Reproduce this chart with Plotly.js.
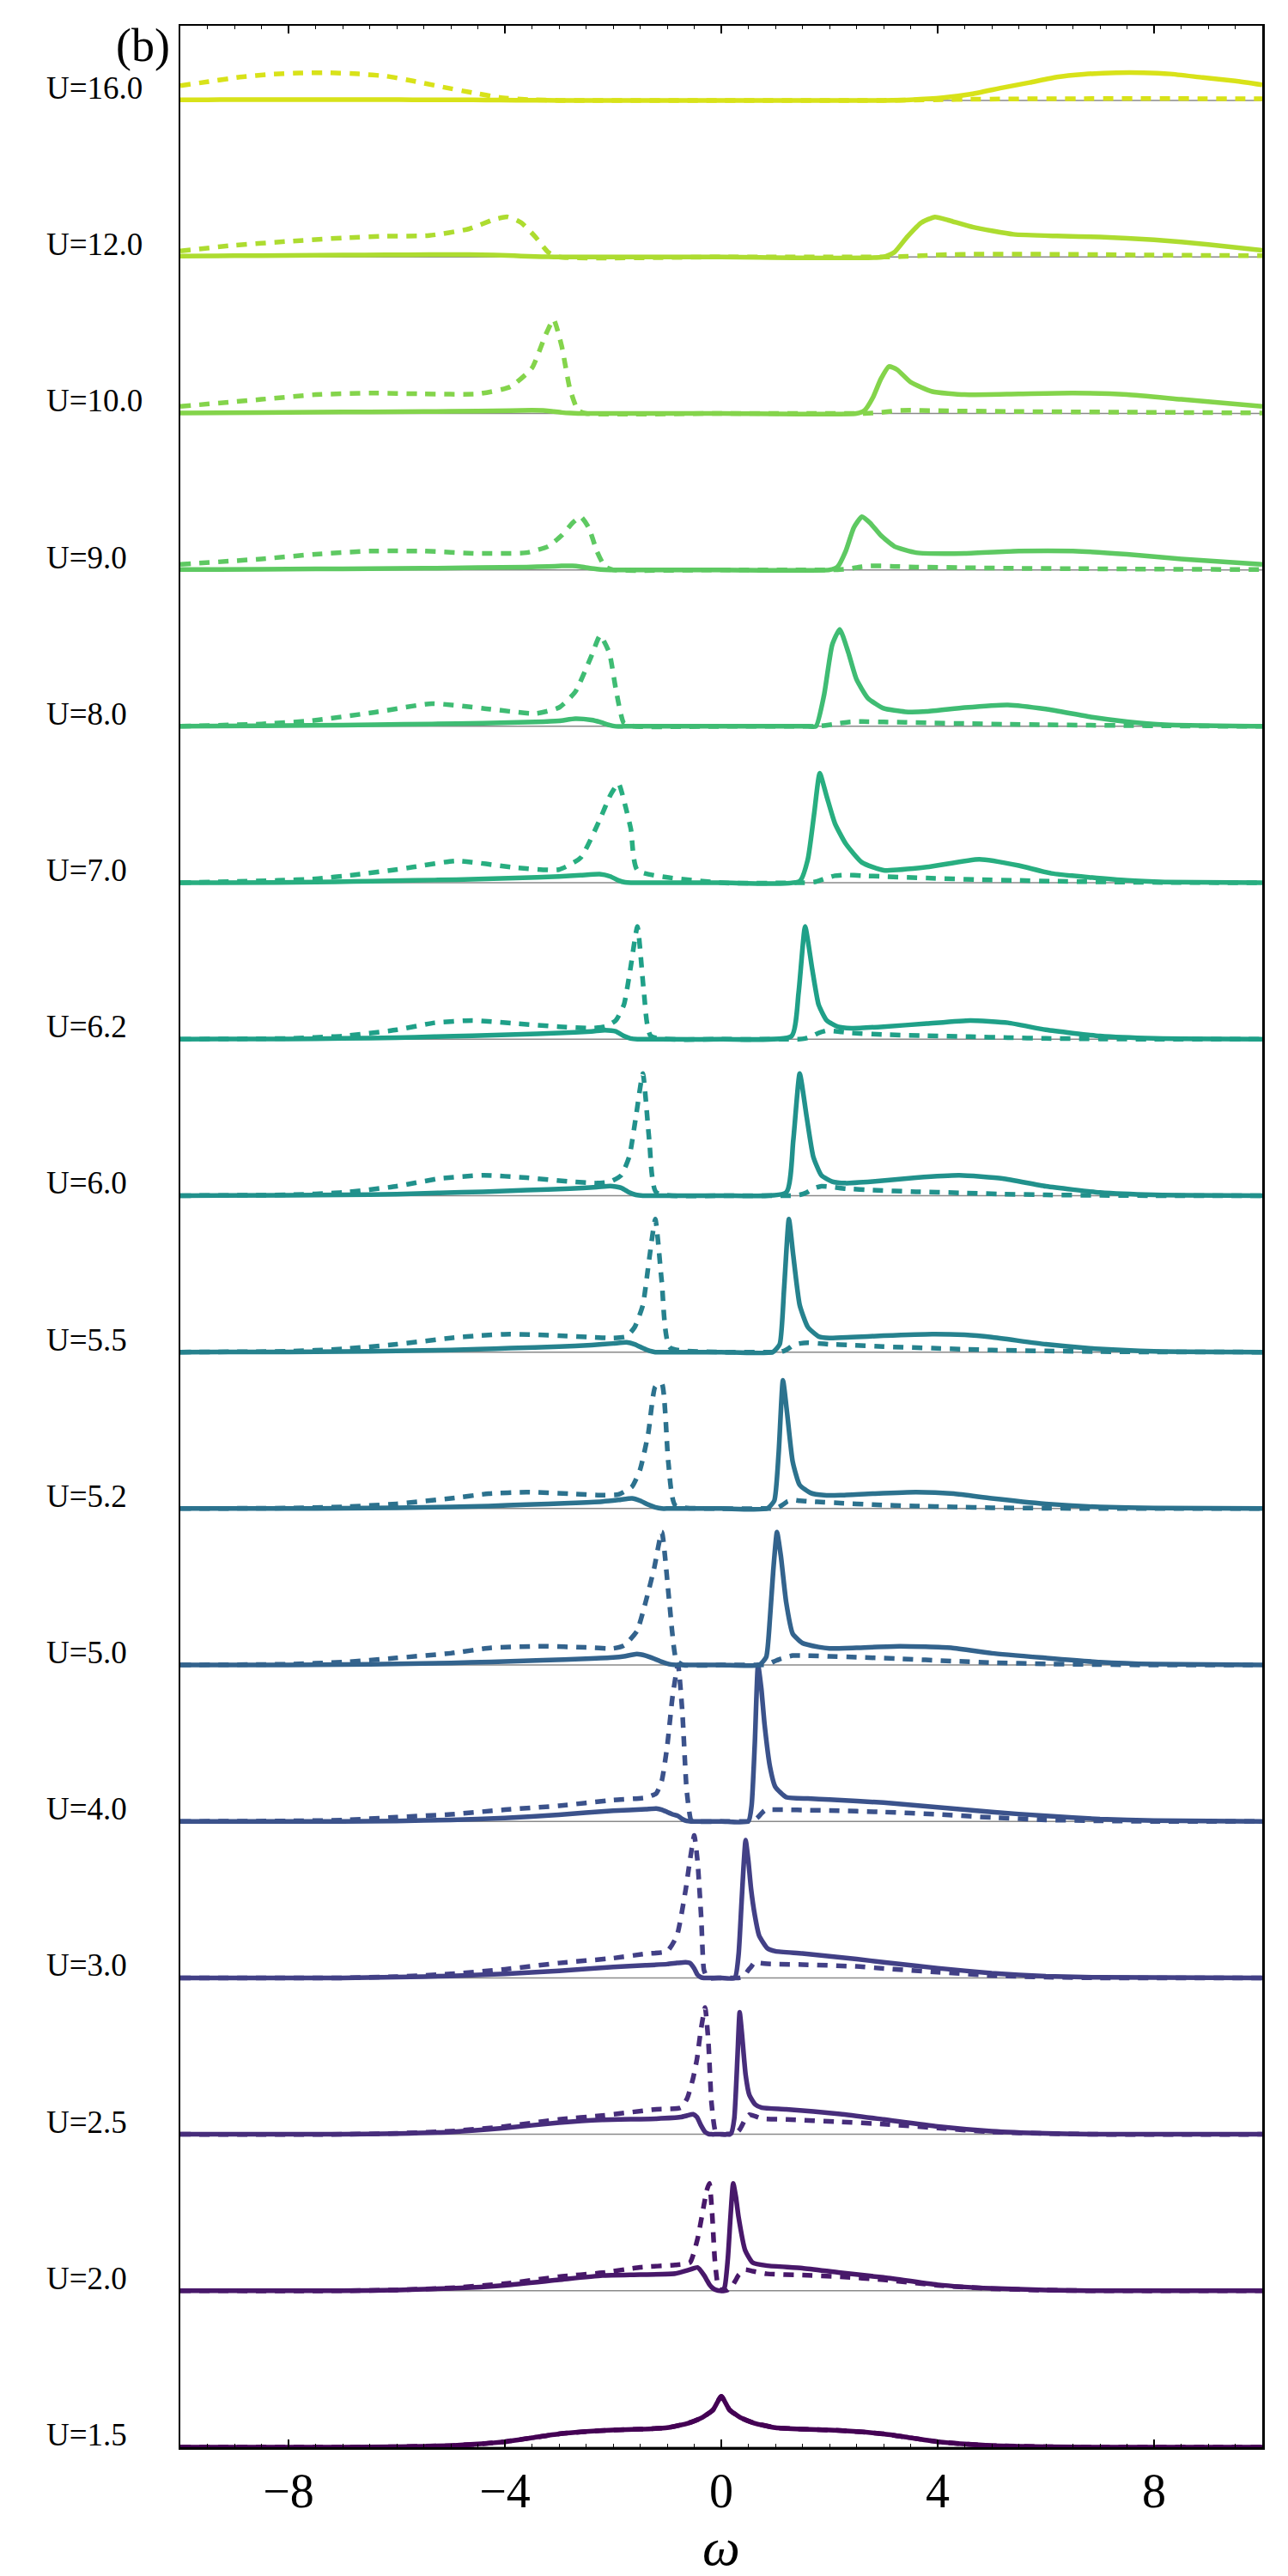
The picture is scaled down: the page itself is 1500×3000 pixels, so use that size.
<!DOCTYPE html>
<html><head><meta charset="utf-8">
<script src="https://cdn.plot.ly/plotly-3.0.1.min.js"></script>
<style>html,body{margin:0;padding:0;background:#fff}</style>
</head><body>
<div id="chart" style="width:1500px;height:3000px"></div>
<script>
// ---- labels & colours (bottom to top) ----
const uLabels = ["U=1.5","U=2.0","U=2.5","U=3.0","U=4.0","U=5.0","U=5.2","U=5.5","U=6.0","U=6.2","U=7.0","U=8.0","U=9.0","U=10.0","U=12.0","U=16.0"];
const colors = ["#440154","#48186a","#472d7b","#424086","#3b528b","#33638d","#2c728e","#26828e","#21918c","#1fa088","#28ae80","#3fbc73","#5ec962","#84d44b","#addc30","#d8e219"];
const xTicks = [-8,-4,0,4,8];
const xRange = [-10,10];

// ---- spectra: omega grid, solid curve, dashed curve ----
const U15_w = [-10,-7,-6,-5,-4.5,-4,-3.5,-3,-2.5,-2,-1.5,-1,-0.6,-0.35,-0.15,0,0.15,0.35,0.6,1,1.5,2,2.5,3,3.5,4,4.5,5,6,7,10];
const U15_s = [0,0,0.003,0.01,0.02,0.035,0.06,0.085,0.1,0.11,0.115,0.125,0.155,0.19,0.24,0.325,0.24,0.19,0.155,0.125,0.115,0.11,0.1,0.085,0.06,0.035,0.02,0.01,0.003,0,0];
const U15_d = [0,0,0.003,0.01,0.02,0.035,0.06,0.085,0.1,0.11,0.115,0.125,0.155,0.19,0.24,0.325,0.24,0.19,0.155,0.125,0.115,0.11,0.1,0.085,0.06,0.035,0.02,0.01,0.003,0,0];

const U20_w = [-10,-7,-6,-5,-4,-3,-2.2,-1.5,-0.85,-0.58,-0.44,-0.32,-0.27,-0.22,-0.17,-0.12,-0.06,0,0.06,0.12,0.17,0.22,0.27,0.32,0.44,0.58,0.85,1.5,2.2,3,4,5,6,7,10];
const U20_s = [0,0,0.005,0.015,0.035,0.07,0.097,0.103,0.11,0.135,0.149,0.1,0.07,0.04,0.02,0.008,0.002,0,0.02,0.2,0.47,0.687,0.6,0.47,0.26,0.18,0.16,0.145,0.115,0.085,0.038,0.015,0.005,0,0];
const U20_d = [0,0,0.005,0.018,0.045,0.09,0.115,0.15,0.165,0.18,0.33,0.55,0.64,0.687,0.5,0.2,0.03,0,0,0.005,0.02,0.04,0.07,0.1,0.135,0.125,0.108,0.1,0.09,0.07,0.035,0.013,0.004,0,0];

const U25_w = [-10,-7,-6,-5,-4,-3,-2.2,-1.2,-0.75,-0.63,-0.52,-0.45,-0.38,-0.3,-0.24,-0.18,-0.1,0,0.1,0.18,0.24,0.3,0.34,0.38,0.45,0.52,0.63,0.75,1.2,2.2,3,4,5,6,7,10];
const U25_s = [0,0,0.005,0.015,0.04,0.075,0.093,0.1,0.11,0.12,0.128,0.11,0.06,0.015,0.003,0,0,0,0,0.005,0.1,0.5,0.78,0.65,0.38,0.25,0.19,0.17,0.16,0.13,0.095,0.05,0.02,0.006,0,0];
const U25_d = [0,0,0.006,0.02,0.05,0.095,0.12,0.16,0.17,0.23,0.36,0.48,0.66,0.81,0.6,0.2,0.01,0,0,0,0.003,0.015,0.03,0.055,0.1,0.126,0.115,0.1,0.095,0.08,0.065,0.04,0.015,0.005,0,0];

const U30_w = [-10,-7,-6,-5,-4,-3,-2,-1.4,-1.0,-0.82,-0.66,-0.58,-0.5,-0.44,-0.37,-0.32,-0.25,0,0.25,0.32,0.37,0.41,0.45,0.5,0.55,0.62,0.7,0.85,1.0,1.5,2.5,3,4,5,6,7,10];
const U30_s = [0,0,0.005,0.012,0.025,0.045,0.07,0.08,0.088,0.095,0.1,0.095,0.06,0.02,0.003,0,0,0,0,0.15,0.45,0.7,0.88,0.75,0.57,0.4,0.27,0.19,0.17,0.156,0.12,0.1,0.062,0.03,0.01,0.003,0];
const U30_d = [0,0,0.008,0.025,0.055,0.095,0.126,0.154,0.17,0.27,0.56,0.75,0.91,0.75,0.38,0.05,0,0,0,0,0.003,0.01,0.025,0.05,0.07,0.1,0.095,0.09,0.088,0.085,0.073,0.06,0.037,0.015,0.005,0,0];

const U40_w = [-10,-8,-7,-6,-5,-4,-3,-2,-1.4,-1.2,-1.1,-1.0,-0.9,-0.8,-0.72,-0.64,-0.56,-0.5,0,0.5,0.56,0.62,0.68,0.74,0.8,0.9,1.0,1.2,1.6,2,3,4,5,6,7,8,10];
const U40_s = [0,0,0,0.003,0.01,0.022,0.043,0.068,0.078,0.082,0.075,0.06,0.045,0.035,0.015,0.003,0,0,0,0,0.1,0.5,1.0,0.85,0.62,0.35,0.22,0.155,0.146,0.14,0.12,0.09,0.06,0.035,0.015,0.005,0];
const U40_d = [0,0.003,0.008,0.027,0.045,0.075,0.1,0.137,0.152,0.18,0.26,0.48,0.8,1.0,0.7,0.2,0.01,0,0,0,0.003,0.01,0.027,0.05,0.07,0.075,0.075,0.075,0.072,0.07,0.06,0.045,0.025,0.01,0.004,0,0];

const U50_w = [-10,-8,-7,-6,-5,-4.25,-3.3,-2.5,-2.0,-1.8,-1.56,-1.4,-1.24,-1.1,-0.96,-0.83,-0.7,0,0.7,0.83,0.9,0.96,1.03,1.1,1.2,1.32,1.5,1.8,2.0,2.5,3.3,4.25,5,6,7,8,10];
const U50_s = [0,0,0.003,0.007,0.013,0.02,0.03,0.04,0.048,0.055,0.07,0.06,0.04,0.02,0.005,0,0,0,0,0.05,0.3,0.6,0.85,0.7,0.4,0.2,0.14,0.115,0.106,0.11,0.12,0.11,0.075,0.045,0.018,0.005,0];
const U50_d = [0,0.005,0.018,0.045,0.075,0.11,0.12,0.112,0.106,0.124,0.216,0.4,0.62,0.85,0.4,0.03,0,0,0,0.003,0.01,0.02,0.03,0.04,0.05,0.06,0.06,0.058,0.055,0.05,0.04,0.025,0.015,0.007,0.003,0,0];

const U52_w = [-10,-8,-7,-6,-5,-4.3,-3.6,-2.8,-2.2,-1.9,-1.65,-1.5,-1.35,-1.22,-1.1,-0.98,-0.85,0,0.85,0.98,1.06,1.14,1.22,1.32,1.45,1.65,1.9,2.2,2.8,3.6,4.3,5,6,7,8,10];
const U52_s = [0,0,0.002,0.005,0.01,0.016,0.025,0.035,0.045,0.055,0.065,0.05,0.025,0.008,0,0,0,0,0,0.05,0.35,0.82,0.6,0.3,0.15,0.1,0.085,0.085,0.095,0.105,0.095,0.065,0.03,0.01,0.003,0];
const U52_d = [0,0.003,0.01,0.03,0.065,0.095,0.105,0.095,0.085,0.09,0.14,0.25,0.48,0.78,0.8,0.3,0.02,0,0,0,0.008,0.025,0.045,0.055,0.05,0.045,0.04,0.035,0.025,0.016,0.01,0.005,0.002,0,0,0];

const U55_w = [-10,-8,-7,-6,-5,-4.5,-3.9,-3.0,-2.4,-2.0,-1.75,-1.6,-1.45,-1.33,-1.22,-1.1,-0.95,0,0.95,1.08,1.16,1.25,1.33,1.45,1.6,1.8,2.0,2.4,3.0,3.9,4.5,5,6,7,8,10];
const U55_s = [0,0.001,0.003,0.007,0.013,0.018,0.025,0.035,0.045,0.055,0.062,0.05,0.025,0.008,0,0,0,0,0,0.05,0.4,0.85,0.62,0.3,0.16,0.1,0.09,0.095,0.105,0.115,0.11,0.095,0.05,0.02,0.005,0];
const U55_d = [0,0.005,0.02,0.05,0.09,0.105,0.115,0.105,0.095,0.09,0.1,0.16,0.3,0.6,0.85,0.45,0.03,0,0,0,0.008,0.025,0.045,0.055,0.06,0.055,0.05,0.045,0.035,0.025,0.018,0.013,0.007,0.003,0.001,0];

const U60_w = [-10,-8,-7,-6,-5.2,-4.4,-3.6,-2.8,-2.3,-2.05,-1.85,-1.7,-1.58,-1.45,-1.33,-1.2,0,1.2,1.33,1.45,1.58,1.7,1.85,2.05,2.3,2.8,3.6,4.4,5.2,6,7,8,10];
const U60_s = [0,0.002,0.005,0.01,0.018,0.025,0.035,0.045,0.055,0.062,0.05,0.02,0.005,0,0,0,0,0.02,0.35,0.78,0.5,0.25,0.13,0.09,0.08,0.09,0.115,0.13,0.11,0.06,0.02,0.005,0];
const U60_d = [0,0.005,0.02,0.06,0.11,0.13,0.115,0.09,0.08,0.09,0.13,0.25,0.5,0.78,0.35,0.02,0,0,0,0.005,0.02,0.045,0.06,0.055,0.045,0.035,0.025,0.018,0.01,0.005,0.002,0,0];

const U62_w = [-10,-8,-7,-6,-5.3,-4.6,-3.8,-3.0,-2.4,-2.15,-1.95,-1.8,-1.68,-1.55,-1.43,-1.3,0,1.3,1.43,1.55,1.68,1.8,1.95,2.15,2.4,3.0,3.8,4.6,5.3,6,7,8,10];
const U62_s = [0,0.002,0.005,0.01,0.016,0.022,0.03,0.04,0.05,0.058,0.05,0.02,0.005,0,0,0,0,0.02,0.3,0.72,0.45,0.22,0.12,0.08,0.07,0.08,0.1,0.12,0.105,0.06,0.02,0.005,0];
const U62_d = [0,0.005,0.02,0.06,0.105,0.12,0.1,0.08,0.07,0.08,0.12,0.22,0.45,0.72,0.3,0.02,0,0,0,0.005,0.02,0.04,0.055,0.05,0.04,0.03,0.022,0.016,0.01,0.005,0.002,0,0];

const U70_w = [-10,-8.2,-7.5,-6.8,-6.1,-5.7,-4.9,-3.8,-3.0,-2.6,-2.25,-2.05,-1.9,-1.78,-1.67,-1.55,0,1.45,1.6,1.72,1.82,1.95,2.1,2.3,2.6,3.0,3.8,4.77,5.5,6.1,7.5,8.2,10];
const U70_s = [0,0.002,0.004,0.008,0.012,0.015,0.02,0.03,0.04,0.048,0.055,0.04,0.015,0.003,0,0,0,0.01,0.15,0.45,0.7,0.55,0.38,0.25,0.13,0.08,0.1,0.15,0.11,0.06,0.015,0.005,0];
const U70_d = [0,0.015,0.025,0.05,0.08,0.1,0.14,0.097,0.084,0.16,0.4,0.56,0.635,0.5,0.34,0.08,0,0,0,0.005,0.015,0.03,0.045,0.05,0.045,0.04,0.03,0.02,0.015,0.01,0.004,0.002,0];

const U80_w = [-10,-8.5,-7.6,-6.4,-5.35,-4.4,-3.43,-3.0,-2.7,-2.4,-2.24,-2.07,-1.95,-1.8,-1.6,0,1.6,1.75,1.9,2.05,2.19,2.35,2.5,2.71,3.0,3.4,3.8,4.5,5.3,6.0,6.83,7.5,8.2,10];
const U80_s = [0,0.003,0.006,0.01,0.015,0.02,0.028,0.035,0.048,0.04,0.027,0.008,0,0,0,0,0,0,0.2,0.52,0.62,0.47,0.3,0.18,0.115,0.093,0.095,0.12,0.137,0.11,0.06,0.03,0.01,0];
const U80_d = [0,0.015,0.035,0.09,0.145,0.115,0.082,0.12,0.22,0.45,0.58,0.47,0.24,0.02,0,0,0,0,0.005,0.012,0.02,0.027,0.03,0.03,0.028,0.025,0.022,0.018,0.013,0.01,0.007,0.005,0.003,0];

const U90_w = [-10,-8.5,-7.5,-6.5,-5.5,-4.5,-3.6,-3.2,-2.95,-2.75,-2.6,-2.45,-2.3,-2.15,-2.0,0,2.0,2.15,2.3,2.45,2.6,2.75,2.95,3.2,3.6,4.5,5.5,6.5,7.5,8.5,10];
const U90_s = [0.002,0.004,0.006,0.008,0.01,0.014,0.018,0.022,0.025,0.025,0.02,0.012,0.005,0.001,0,0,0,0.02,0.12,0.27,0.34,0.3,0.22,0.15,0.11,0.105,0.12,0.12,0.1,0.07,0.035];
const U90_d = [0.035,0.07,0.1,0.12,0.12,0.105,0.11,0.15,0.22,0.3,0.34,0.27,0.12,0.02,0,0,0,0.001,0.005,0.012,0.02,0.025,0.025,0.022,0.018,0.014,0.01,0.008,0.006,0.004,0.002];

const U100_w = [-10,-8.5,-7.5,-6.5,-5.5,-4.5,-3.9,-3.5,-3.25,-3.1,-2.95,-2.8,-2.65,-2.5,0,2.5,2.65,2.8,2.95,3.1,3.25,3.5,3.9,4.5,5.5,6.5,7.5,8.5,10];
const U100_s = [0.003,0.006,0.008,0.01,0.012,0.015,0.018,0.02,0.018,0.012,0.006,0.002,0,0,0,0,0.02,0.1,0.22,0.3,0.28,0.2,0.14,0.12,0.125,0.13,0.12,0.09,0.045];
const U100_d = [0.045,0.09,0.12,0.13,0.125,0.125,0.17,0.29,0.5,0.6,0.43,0.16,0.02,0,0,0,0,0.002,0.006,0.012,0.018,0.02,0.018,0.015,0.012,0.01,0.008,0.006,0.003];

const U120_w = [-10,-9,-8,-7,-6.2,-5.4,-4.66,-4.2,-3.95,-3.7,-3.44,-3.2,-3.0,0,3.0,3.2,3.44,3.7,3.95,4.2,4.66,5.4,6.2,7,8,9,10];
const U120_s = [0.005,0.008,0.01,0.012,0.014,0.015,0.015,0.013,0.01,0.006,0.003,0.001,0,0,0,0.03,0.13,0.22,0.256,0.235,0.19,0.145,0.134,0.128,0.11,0.08,0.042];
const U120_d = [0.038,0.075,0.1,0.122,0.133,0.137,0.18,0.24,0.256,0.22,0.13,0.03,0,0,0,0.001,0.004,0.008,0.012,0.015,0.018,0.018,0.017,0.015,0.012,0.01,0.008];

const U160_w = [-10,-9.5,-8.9,-8.3,-7.8,-7.3,-6.7,-6.2,-5.7,-5.2,-4.6,-4.1,-3.5,-3,-2.5,0,2.5,3,3.5,4.1,4.6,5.2,5.7,6.2,6.7,7.3,7.8,8.3,8.9,9.5,10];
const U160_s = [0.005,0.005,0.006,0.006,0.006,0.006,0.006,0.006,0.005,0.005,0.004,0.003,0.002,0.001,0,0,0,0.001,0.005,0.018,0.04,0.082,0.115,0.15,0.168,0.178,0.178,0.17,0.147,0.125,0.1];
const U160_d = [0.095,0.12,0.15,0.168,0.176,0.178,0.17,0.156,0.125,0.09,0.05,0.02,0.005,0.001,0,0,0,0.001,0.003,0.006,0.008,0.01,0.011,0.012,0.012,0.013,0.013,0.013,0.012,0.012,0.011];

const spectra = [
  [U15_w,U15_s,U15_d],[U20_w,U20_s,U20_d],[U25_w,U25_s,U25_d],[U30_w,U30_s,U30_d],
  [U40_w,U40_s,U40_d],[U50_w,U50_s,U50_d],[U52_w,U52_s,U52_d],[U55_w,U55_s,U55_d],
  [U60_w,U60_s,U60_d],[U62_w,U62_s,U62_d],[U70_w,U70_s,U70_d],[U80_w,U80_s,U80_d],
  [U90_w,U90_s,U90_d],[U100_w,U100_s,U100_d],[U120_w,U120_s,U120_d],[U160_w,U160_s,U160_d]
];

// ---- build figure ----
const STEP = 1.0;
const serif = "Liberation Serif, Times New Roman, serif";
const traces = [];
const annotations = [];
spectra.forEach((sp, i) => {
  const off = i * STEP;
  traces.push({x: xRange, y: [off, off], mode: 'lines', line: {color: '#8a8a8a', width: 1.5}, hoverinfo: 'skip', showlegend: false});
  traces.push({x: sp[0], y: sp[1].map(v => v + off), mode: 'lines', line: {color: colors[i], width: 5.5, shape: 'spline', smoothing: 0.5}, showlegend: false});
  traces.push({x: sp[0], y: sp[2].map(v => v + off), mode: 'lines', line: {color: colors[i], width: 5.5, dash: '12px,10px', shape: 'spline', smoothing: 0.5}, showlegend: false});
  annotations.push({xref: 'paper', x: -0.1254, xanchor: 'left', yref: 'y', y: off, yanchor: 'bottom', yshift: -8,
    text: uLabels[i], showarrow: false, font: {family: serif, size: 37, color: '#000'}});
});
annotations.push({xref: 'paper', x: -0.008, xanchor: 'right', yref: 'paper', y: 0.992, yanchor: 'middle',
  text: '(b)', showarrow: false, font: {family: serif, size: 54, color: '#000'}});

const layout = {
  width: 1500, height: 3000,
  margin: {l: 210, r: 30, t: 30, b: 150},
  paper_bgcolor: '#fff', plot_bgcolor: '#fff',
  showlegend: false,
  xaxis: {
    range: xRange, tickvals: xTicks, ticks: 'inside', ticklen: 9, tickwidth: 1.5, tickcolor: '#000',
    showline: true, linewidth: 2.5, linecolor: '#000', mirror: 'ticks', showgrid: false, zeroline: false,
    minor: {dtick: 0.5, ticks: 'inside', ticklen: 4, tickwidth: 1, tickcolor: '#000', showgrid: false},
    tickfont: {family: serif, size: 56, color: '#000'},
    title: {text: '<i>ω</i>', font: {family: serif, size: 62, color: '#000'}, standoff: 16}
  },
  yaxis: {
    range: [0, 15.478], showticklabels: false, ticks: '', showline: true, linewidth: 2.5, linecolor: '#000',
    mirror: true, showgrid: false, zeroline: false
  },
  annotations: annotations
};
Plotly.newPlot('chart', traces, layout, {displayModeBar: false, staticPlot: true});
</script>
</body></html>
